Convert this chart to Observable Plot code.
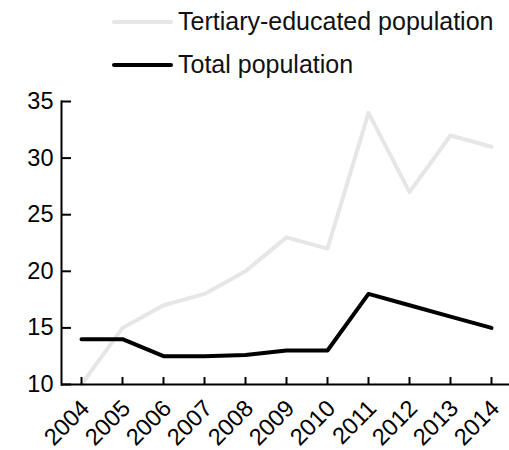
<!DOCTYPE html>
<html>
<head>
<meta charset="utf-8">
<script src="https://cdn.jsdelivr.net/npm/d3@7"></script>
<script src="https://cdn.jsdelivr.net/npm/@observablehq/plot@0.6"></script>
<style>
  html, body { margin: 0; padding: 0; background: #fff; overflow: hidden; }
  #wrap { position: relative; width: 509px; height: 450px; overflow: hidden; }
  #legend { position: relative; height: 85px; font-family: "Liberation Sans", Arial, sans-serif; }
  .item { position: absolute; left: 112px; display: flex; align-items: center; font-size: 25px; color: #111; white-space: nowrap; }
  .item svg { margin-right: 5px; }
  #chart svg { display: block; }
</style>
</head>
<body>
<div id="wrap">
<div id="legend"></div>
<div id="chart"></div>
</div>
<script>
const years = ["2004","2005","2006","2007","2008","2009","2010","2011","2012","2013","2014"];
const tertiary = [10, 15, 17, 18, 20, 23, 22, 34, 27, 32, 31];
const total = [14, 14, 12.5, 12.5, 12.6, 13, 13, 18, 17, 16, 15];
const yTicks = [10, 15, 20, 25, 30, 35];
const seriesNames = ["Tertiary-educated population", "Total population"];
const seriesColors = ["#e6e6e6", "#000000"];

const tertiaryData = years.map((y, i) => ({year: y, value: tertiary[i]}));
const totalData = years.map((y, i) => ({year: y, value: total[i]}));

// legend
const legend = document.getElementById("legend");
seriesNames.forEach((name, i) => {
  const div = document.createElement("div");
  div.className = "item";
  div.style.top = (i === 0 ? 7 : 50) + "px";
  div.innerHTML = `<svg width="61" height="6"><line x1="2" y1="3" x2="59" y2="3" stroke="${seriesColors[i]}" stroke-width="4" stroke-linecap="round"/></svg><span>${name}</span>`;
  legend.appendChild(div);
});

const W = 509, H = 365, mT = 16, mB = 66, mL = 61, mR = 0;
const frameW = W - mL - mR, frameH = H - mT - mB;
const yTickLen = 10, xTickLen = 7;

const chart = Plot.plot({
  width: W,
  height: H,
  marginTop: mT,
  marginBottom: mB,
  marginLeft: mL,
  marginRight: mR,
  style: {fontFamily: "Liberation Sans, Arial, sans-serif", fontSize: "23.5px", overflow: "hidden"},
  x: {type: "point", domain: years, padding: 0, insetLeft: 19, insetRight: 17, label: null},
  y: {domain: [10, 35], label: null},
  marks: [
    Plot.line(tertiaryData, {x: "year", y: "value", stroke: seriesColors[0], strokeWidth: 4}),
    Plot.line(totalData, {x: "year", y: "value", stroke: seriesColors[1], strokeWidth: 4}),
    Plot.ruleY(yTicks, {y: d => d, insetRight: frameW - yTickLen, stroke: "black", strokeWidth: 2}),
    Plot.ruleX(years, {x: d => d, insetTop: frameH - xTickLen, stroke: "black", strokeWidth: 2}),
    Plot.frame({anchor: "left", stroke: "black", strokeWidth: 2}),
    Plot.ruleY([10], {stroke: "black", strokeWidth: 2}),
    Plot.axisY({ticks: yTicks, tickSize: 0, tickPadding: 8, label: null}),
    Plot.axisX({ticks: years, tickSize: 0, tickPadding: 20, dx: 4, tickRotate: -45, label: null})
  ]
});
document.getElementById("chart").appendChild(chart);
</script>
</body>
</html>
